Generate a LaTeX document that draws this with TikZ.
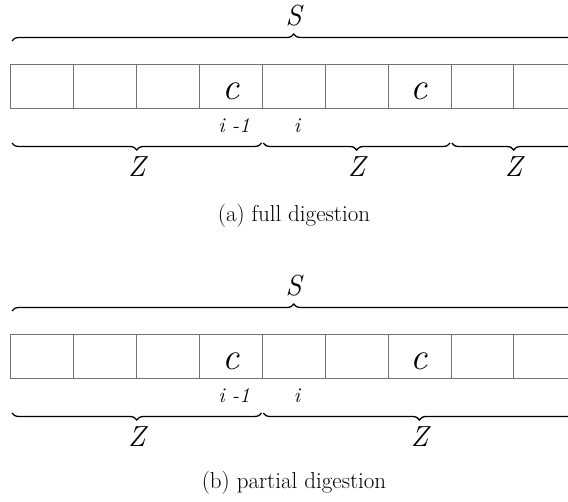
\documentclass[tikz,border=0pt]{standalone}
\usetikzlibrary{decorations.pathreplacing}

\tikzset{
  cellline/.style={draw=black!55, line width=0.9pt},
  braceup/.style={decorate, decoration={brace, amplitude=7pt}, line width=1.3pt},
  bracedown/.style={decorate, decoration={brace, mirror, amplitude=7pt}, line width=1.3pt},
  biglbl/.style={anchor=base, inner sep=0pt, font=\fontsize{29}{32}\selectfont\itshape},
  chrlbl/.style={anchor=base, inner sep=0pt, font=\fontsize{38}{40}\selectfont\itshape},
  idxlbl/.style={anchor=base, inner sep=0pt, font=\fontsize{21}{24}\selectfont\itshape},
  caplbl/.style={anchor=base, inner sep=0pt, font=\fontsize{23}{26}\selectfont}
}

\begin{document}
\begin{tikzpicture}[x=1pt,y=1pt]
\useasboundingbox (0,0) rectangle (568,502);
\clip (0,0) rectangle (568,502);

\coordinate (SA0) at (12,461);
\coordinate (SA1) at (575.5,461);
\coordinate (ZA0) at (12,359);
\coordinate (ZA1) at (261.5,359);
\coordinate (ZA2) at (263.3,359);
\coordinate (ZA3) at (450,359);
\coordinate (ZA4) at (451.8,359);
\coordinate (ZA5) at (575.5,359);

\draw[cellline] (10.7,394) rectangle (576.8,438);
\draw[cellline] (73.6,394) -- (73.6,438) (136.5,394) -- (136.5,438)
  (199.4,394) -- (199.4,438) (262.3,394) -- (262.3,438)
  (325.2,394) -- (325.2,438) (388.1,394) -- (388.1,438)
  (451.0,394) -- (451.0,438) (513.9,394) -- (513.9,438);

\draw[braceup] (SA0) -- (SA1);
\draw[bracedown] (ZA0) -- (ZA1);
\draw[bracedown] (ZA2) -- (ZA3);
\draw[bracedown] (ZA4) -- (ZA5);

\node[biglbl] (sa) at (293.5,476.5) {S};
\node[chrlbl] (ca1) at (230.8,402.7) {c};
\node[chrlbl] (ca2) at (419.5,402.7) {c};
\node[idxlbl] (ia1) at (234,369) {i -1};
\node[idxlbl] (ia2) at (297,369) {i};
\node[biglbl] (za1) at (136.7,325) {Z};
\node[biglbl] (za2) at (356.6,325) {Z};
\node[biglbl] (za3) at (513.6,325) {Z};
\node[caplbl] (capa) at (294,280.3) {(a)\ full digestion};

\coordinate (SB0) at (12,191);
\coordinate (SB1) at (575.5,191);
\coordinate (ZB0) at (12,89);
\coordinate (ZB1) at (261.5,89);
\coordinate (ZB2) at (263.3,89);
\coordinate (ZB3) at (575.5,89);

\draw[cellline] (10.7,124) rectangle (576.8,168);
\draw[cellline] (73.6,124) -- (73.6,168) (136.5,124) -- (136.5,168)
  (199.4,124) -- (199.4,168) (262.3,124) -- (262.3,168)
  (325.2,124) -- (325.2,168) (388.1,124) -- (388.1,168)
  (451.0,124) -- (451.0,168) (513.9,124) -- (513.9,168);

\draw[braceup] (SB0) -- (SB1);
\draw[bracedown] (ZB0) -- (ZB1);
\draw[bracedown] (ZB2) -- (ZB3);

\node[biglbl] (sb) at (293.5,206.5) {S};
\node[chrlbl] (cb1) at (230.8,132.7) {c};
\node[chrlbl] (cb2) at (419.5,132.7) {c};
\node[idxlbl] (ib1) at (234,99) {i -1};
\node[idxlbl] (ib2) at (297,99) {i};
\node[biglbl] (zb1) at (136.7,55) {Z};
\node[biglbl] (zb2) at (419.5,55) {Z};
\node[caplbl] (capb) at (294,13.3) {(b)\ partial digestion};
\end{tikzpicture}
\end{document}
